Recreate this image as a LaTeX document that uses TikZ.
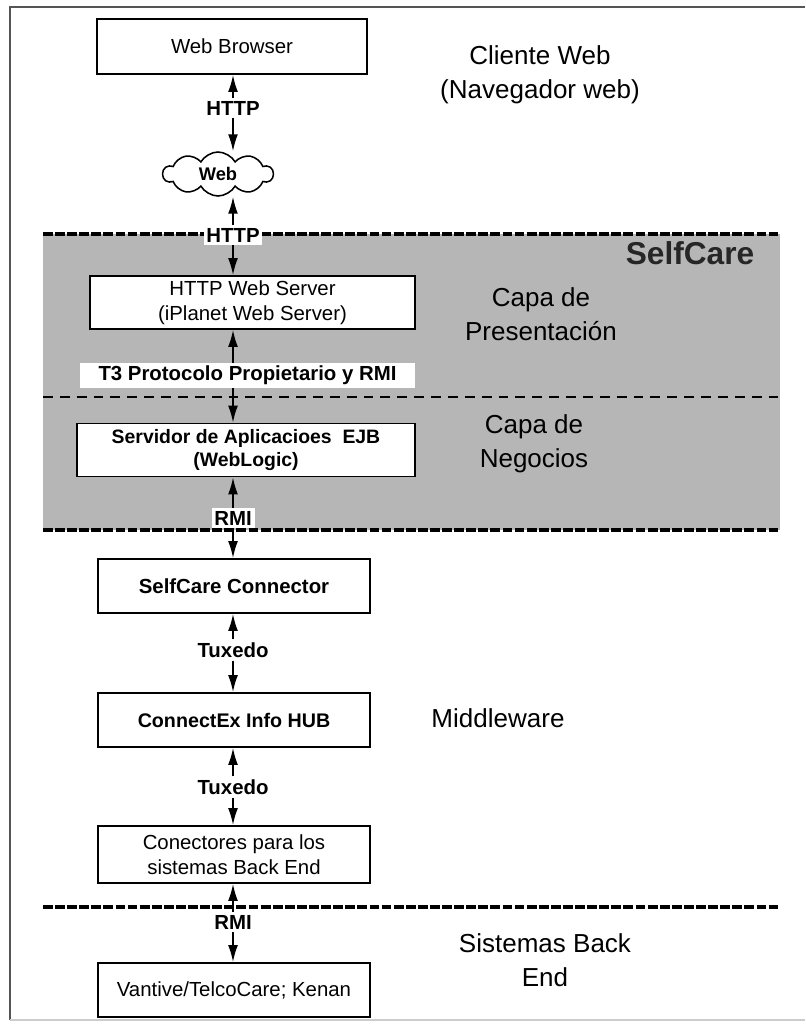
\documentclass[tikz,border=0pt]{standalone}
\usepackage{fontspec}
\setmainfont{Liberation Sans}
\usetikzlibrary{shapes.symbols, arrows.meta, positioning}
\definecolor{selfgray}{RGB}{182,182,182}
\definecolor{framegray}{RGB}{85,85,85}

\begin{document}
\begin{tikzpicture}[
  x=0.025cm, y=-0.025cm,
  tierbox/.style={draw, line width=1.3pt, fill=white, minimum width=6.8cm, minimum height=1.35cm, align=center, inner sep=2pt, font=\fontsize{14.5}{18}\selectfont},
  protolabel/.style={inner sep=2pt, font=\fontsize{14.5}{17}\selectfont\bfseries},
  whitelabel/.style={protolabel, fill=white},
  layertext/.style={align=center, font=\fontsize{18.5}{24}\selectfont},
  link/.style={line width=1.2pt, -{Latex[length=12pt,width=7pt]}},
  thickdash/.style={line width=2.2pt, dash pattern=on 7pt off 1.6pt},
  thindash/.style={line width=1pt, dash pattern=on 7pt off 5pt}
]
\useasboundingbox (0,0) rectangle (805,1025);

% frame and SelfCare band
\draw[framegray, line width=1.2pt] (805,7) -- (10,7) -- (10,1020);
\draw[gray!40, line width=1pt] (10,1020) -- (805,1020);
\fill[selfgray] (43,234) rectangle (780,530);
\draw[thickdash] (43,234) -- (780,234);
\draw[thindash] (43,397) -- (780,397);
\draw[thickdash] (43,530) -- (780,530);
\draw[thickdash] (43,907) -- (780,907);

\coordinate (axis) at (233,0);

% tier boxes
\node[tierbox, minimum width=6.75cm, minimum height=1.375cm] (browser) at (232,46.5) {Web Browser};
\node[cloud, draw, line width=1.1pt, cloud puffs=10, cloud puff arc=120, cloud ignores aspect, minimum width=2.75cm, minimum height=1.1cm, inner sep=0pt, font=\fontsize{13}{15}\selectfont\bfseries] (web) at (218,174) {Web};
\node[tierbox, minimum width=8.125cm, minimum height=1.325cm] (websrv) at (252.5,302.5) {HTTP Web Server\\(iPlanet Web Server)};
\node[tierbox, minimum width=8.45cm, minimum height=1.325cm, font=\fontsize{13.8}{17}\selectfont\bfseries] (ejb) at (246,450) {Servidor de Aplicacioes\ \ EJB\\(WebLogic)};
\node[tierbox, font=\fontsize{14.5}{18}\selectfont\bfseries] (selfconn) at (234,586) {SelfCare Connector};
\node[tierbox, font=\fontsize{14}{18}\selectfont\bfseries] (hub) at (234,720) {ConnectEx Info HUB};
\node[tierbox, minimum height=1.425cm] (conect) at (234,854.5) {Conectores para los\\sistemas Back End};
\node[tierbox] (vantive) at (234,990) {Vantive/TelcoCare; Kenan};

% protocol labels
\node[protolabel] (http1) at (233,108) {HTTP};
\node[whitelabel] (http2) at (233,235) {HTTP};
\node[whitelabel, minimum width=8.375cm, minimum height=0.625cm] (t3) at (247.5,375.5) {T3 Protocolo Propietario y RMI};
\node[whitelabel] (rmi1) at (233,518) {RMI};
\node[protolabel] (tux1) at (233,650) {Tuxedo};
\node[protolabel] (tux2) at (233,787) {Tuxedo};
\node[protolabel] (rmi2) at (233,922) {RMI};

% arrows
\draw[link] (http1) -- (axis |- browser.south);
\draw[link] (http1) -- (axis |- web.north);
\draw[link] (http2) -- (axis |- web.south);
\draw[link] (http2) -- (axis |- websrv.north);
\draw[link] (axis |- t3.north) -- (axis |- websrv.south);
\draw[link] (axis |- t3.south) -- (axis |- ejb.north);
\draw[link] (rmi1) -- (axis |- ejb.south);
\draw[link] (rmi1) -- (axis |- selfconn.north);
\draw[link] (tux1) -- (axis |- selfconn.south);
\draw[link] (tux1) -- (axis |- hub.north);
\draw[link] (tux2) -- (axis |- hub.south);
\draw[link] (tux2) -- (axis |- conect.north);
\draw[link] (rmi2) -- (axis |- conect.south);
\draw[link] (rmi2) -- (axis |- vantive.north);

% layer names
\node[layertext] (client) at (540,75) {Cliente Web\\(Navegador web)};
\node[font=\fontsize{22.5}{26}\selectfont\bfseries, text=black!85] (selfcare) at (690,253) {SelfCare};
\node[layertext] (present) at (541,314.5) {Capa de\\Presentación};
\node[layertext] (business) at (534,443.5) {Capa de\\Negocios};
\node[layertext] (middle) at (498,718) {Middleware};
\node[layertext] (backend) at (545,960) {Sistemas Back\\End};

\end{tikzpicture}
\end{document}
